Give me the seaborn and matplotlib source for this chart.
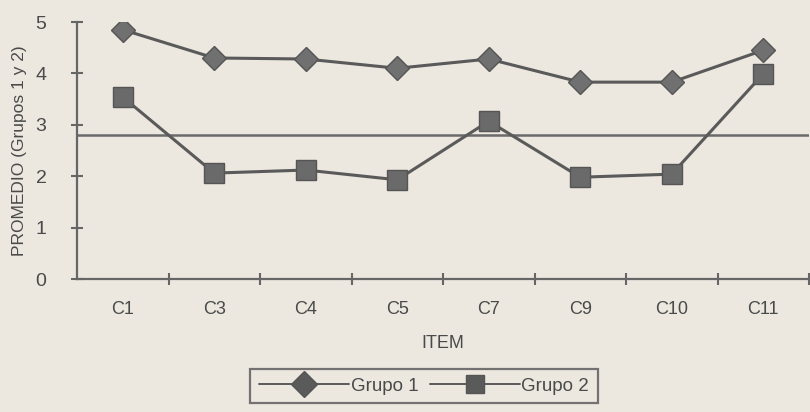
import matplotlib
matplotlib.use("Agg")
import matplotlib.pyplot as plt
import seaborn as sns
import pandas as pd

items = ["C1", "C3", "C4", "C5", "C7", "C9", "C10", "C11"]
grupo1 = [4.85, 4.30, 4.28, 4.10, 4.28, 3.83, 3.83, 4.45]
grupo2 = [3.54, 2.06, 2.12, 1.93, 3.07, 1.98, 2.04, 3.99]
media_general = 2.8
series_names = ["Grupo 1", "Grupo 2"]

df = pd.DataFrame({
    "ITEM": items * 2,
    "valor": grupo1 + grupo2,
    "serie": [series_names[0]] * len(items) + [series_names[1]] * len(items),
})

bg = "#ece7df"
line_col = "#5a5a5a"
text_col = "#4a4a4a"

sns.set_style("white")
plt.rcParams["font.family"] = ["Liberation Sans", "DejaVu Sans"]

fig = plt.figure(figsize=(8.1, 4.12), dpi=100, facecolor=bg)
ax = fig.add_axes([77 / 810, 1 - 279 / 412, (809 - 77) / 810, (279 - 22) / 412])
ax.set_facecolor(bg)

sns.lineplot(
    data=df, x="ITEM", y="valor", hue="serie", style="serie",
    palette={series_names[0]: line_col, series_names[1]: line_col},
    markers={series_names[0]: "D", series_names[1]: "s"},
    dashes=False, sort=False, ax=ax, linewidth=2.2,
    markersize=13, markeredgecolor="#555555", markeredgewidth=1,
)
for ln, mfc in zip(ax.lines[:2], ["#707070", "#6a6a6a"]):
    ln.set_markerfacecolor(mfc)
for ln, ms in zip(ax.lines[:2], [12, 14]):
    ln.set_markersize(ms)

ax.axhline(media_general, color="#6a6a6a", linewidth=1.8, zorder=1)

ax.set_xlim(-0.5, len(items) - 0.5)
ax.set_ylim(0, 5)
ax.set_yticks([0, 1, 2, 3, 4, 5])
ax.set_xticks(range(len(items)))
ax.set_xticklabels(items)
ax.set_xticks([i + 0.5 for i in range(len(items))], minor=True)

for s in ["top", "right"]:
    ax.spines[s].set_visible(False)
for s in ["left", "bottom"]:
    ax.spines[s].set_color("#666666")
    ax.spines[s].set_linewidth(1.6)

ax.tick_params(axis="x", which="both", bottom=True)
ax.tick_params(axis="y", which="both", left=True)
ax.tick_params(axis="x", which="major", length=0, pad=16, labelsize=13, colors=text_col)
ax.tick_params(axis="x", which="minor", length=9, direction="inout", width=1.5, color="#666666")
ax.tick_params(axis="y", which="major", length=8, direction="inout", width=1.5,
               color="#666666", labelsize=14, labelcolor=text_col, pad=18)

ax.set_xlabel("ITEM", fontsize=13, color=text_col, labelpad=12)
ax.set_ylabel("PROMEDIO (Grupos 1 y 2)", fontsize=12.5, color=text_col, labelpad=6)

handles, labels = ax.get_legend_handles_labels()
ax.legend_.remove()
leg = fig.legend(handles, labels, loc="center", bbox_to_anchor=(424 / 810, 1 - 386 / 412),
                 ncol=2, frameon=True, fancybox=False, edgecolor="#555555",
                 facecolor=bg, fontsize=13.5, handlelength=4.8, handletextpad=0.1,
                 columnspacing=0.6, borderpad=0.45, labelcolor=text_col)
leg.get_frame().set_linewidth(1.6)
for h in leg.legend_handles:
    h.set_markersize(13)
    h.set_linewidth(1.4)

fig.savefig("out.png", dpi=100, facecolor=bg)
